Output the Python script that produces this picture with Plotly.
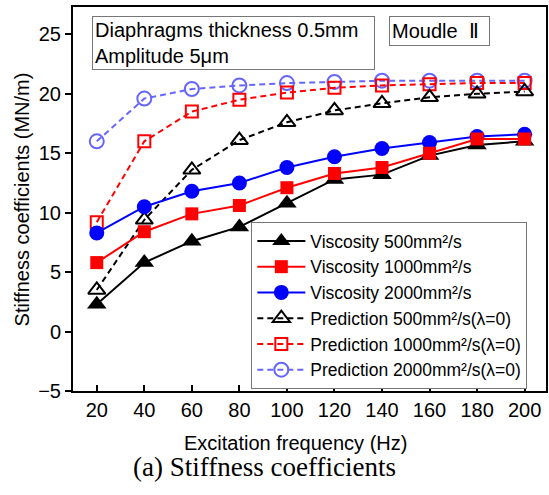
import plotly.graph_objects as go

# Excitation frequency (Hz)
freq = [20, 40, 60, 80, 100, 120, 140, 160, 180, 200]

# Measured stiffness coefficients (MN/m)
visc_500 = [2.3, 5.8, 7.6, 8.8, 10.8, 12.8, 13.2, 14.8, 15.7, 16.0]
visc_1000 = [5.8, 8.4, 9.9, 10.6, 12.1, 13.3, 13.8, 15.0, 16.2, 16.2]
visc_2000 = [8.3, 10.5, 11.8, 12.5, 13.8, 14.7, 15.4, 15.9, 16.4, 16.6]

# Predicted stiffness coefficients (MN/m), lambda = 0
pred_500 = [3.5, 9.4, 13.6, 16.1, 17.6, 18.6, 19.2, 19.7, 20.0, 20.2]
pred_1000 = [9.2, 16.0, 18.5, 19.5, 20.1, 20.5, 20.7, 20.8, 20.9, 20.9]
pred_2000 = [16.0, 19.6, 20.4, 20.7, 20.9, 21.0, 21.1, 21.1, 21.1, 21.1]

names = [
    "Viscosity 500mm²/s",
    "Viscosity 1000mm²/s",
    "Viscosity 2000mm²/s",
    "Prediction 500mm²/s(λ=0)",
    "Prediction 1000mm²/s(λ=0)",
    "Prediction 2000mm²/s(λ=0)",
]

FONT = "Liberation Sans, Arial, sans-serif"
DASH = "6px,4px"

fig = go.Figure()

# predictions first so the measured markers sit on top
fig.add_trace(go.Scatter(
    x=freq, y=pred_2000, name=names[5], legendrank=6, mode="lines+markers",
    line=dict(color="#6666ff", width=2, dash=DASH),
    marker=dict(symbol="circle-open", size=14, color="#6666ff", line=dict(width=2)),
))
fig.add_trace(go.Scatter(
    x=freq, y=pred_1000, name=names[4], legendrank=5, mode="lines+markers",
    line=dict(color="#ff0000", width=2, dash=DASH),
    marker=dict(symbol="square-open", size=12, color="#ff0000", line=dict(width=2)),
))
fig.add_trace(go.Scatter(
    x=freq, y=pred_500, name=names[3], legendrank=4, mode="lines+markers",
    line=dict(color="#000000", width=2, dash=DASH),
    marker=dict(symbol="triangle-up-open", size=15, color="#000000", line=dict(width=2)),
))
fig.add_trace(go.Scatter(
    x=freq, y=visc_500, name=names[0], legendrank=1, mode="lines+markers",
    line=dict(color="#000000", width=2),
    marker=dict(symbol="triangle-up", size=17, color="#000000"),
))
fig.add_trace(go.Scatter(
    x=freq, y=visc_2000, name=names[2], legendrank=3, mode="lines+markers",
    line=dict(color="#0000ff", width=2),
    marker=dict(symbol="circle", size=15, color="#0000ff"),
))
fig.add_trace(go.Scatter(
    x=freq, y=visc_1000, name=names[1], legendrank=2, mode="lines+markers",
    line=dict(color="#ff0000", width=2),
    marker=dict(symbol="square", size=13, color="#ff0000"),
))

fig.update_layout(
    width=549, height=495,
    margin=dict(l=73, r=1, t=7, b=104),
    paper_bgcolor="white", plot_bgcolor="white",
    font=dict(family=FONT, size=20, color="black"),
    showlegend=True,
    legend=dict(
        x=0.377, y=0.44, xanchor="left", yanchor="top",
        bgcolor="white", bordercolor="#777777", borderwidth=1,
        font=dict(family=FONT, size=17.5), itemwidth=48, tracegroupgap=0,
    ),
    xaxis=dict(
        range=[10, 209], tickvals=freq, ticks="inside", ticklen=6,
        tickwidth=1.5, tickcolor="black", showgrid=False, zeroline=False,
        showline=True, linecolor="black", linewidth=2, mirror=True,
        tickfont=dict(size=20),
    ),
    yaxis=dict(
        range=[-5, 27.3], tickvals=[-5, 0, 5, 10, 15, 20, 25], ticks="outside",
        ticklen=6, tickwidth=1.5, tickcolor="black", showgrid=False, zeroline=False,
        showline=True, linecolor="black", linewidth=2, mirror=True,
        tickfont=dict(size=20),
    ),
    annotations=[
        dict(text="Diaphragms thickness 0.5mm<br>Amplitude 5μm", xref="paper", yref="paper",
             x=0.04, y=0.977, xanchor="left", yanchor="top", align="left", showarrow=False,
             width=277, height=48, bordercolor="#777777", borderwidth=1, borderpad=2,
             bgcolor="white", font=dict(size=20)),
        dict(text="Moudle  <span style='font-family:Liberation Serif'>Ⅱ</span>",
             xref="paper", yref="paper",
             x=0.669, y=0.977, xanchor="left", yanchor="top", align="left", showarrow=False,
             width=95, height=24, bordercolor="#777777", borderwidth=1, borderpad=2,
             bgcolor="white", font=dict(size=20)),
        dict(text="Stiffness coefficients (MN/m)", xref="paper", yref="paper",
             x=-0.107, y=0.5, xanchor="center", yanchor="middle", textangle=-90,
             showarrow=False, font=dict(size=20)),
        dict(text="Excitation frequency (Hz)", xref="paper", yref="paper",
             x=0.47, y=-0.135, xanchor="center", yanchor="middle",
             showarrow=False, font=dict(size=20)),
        dict(text="(a) Stiffness coefficients", xref="paper", yref="paper",
             x=0.405, y=-0.198, xanchor="center", yanchor="middle",
             showarrow=False, font=dict(family="Liberation Serif, Times New Roman, serif", size=27)),
    ],
)

fig.write_html("out.html")
